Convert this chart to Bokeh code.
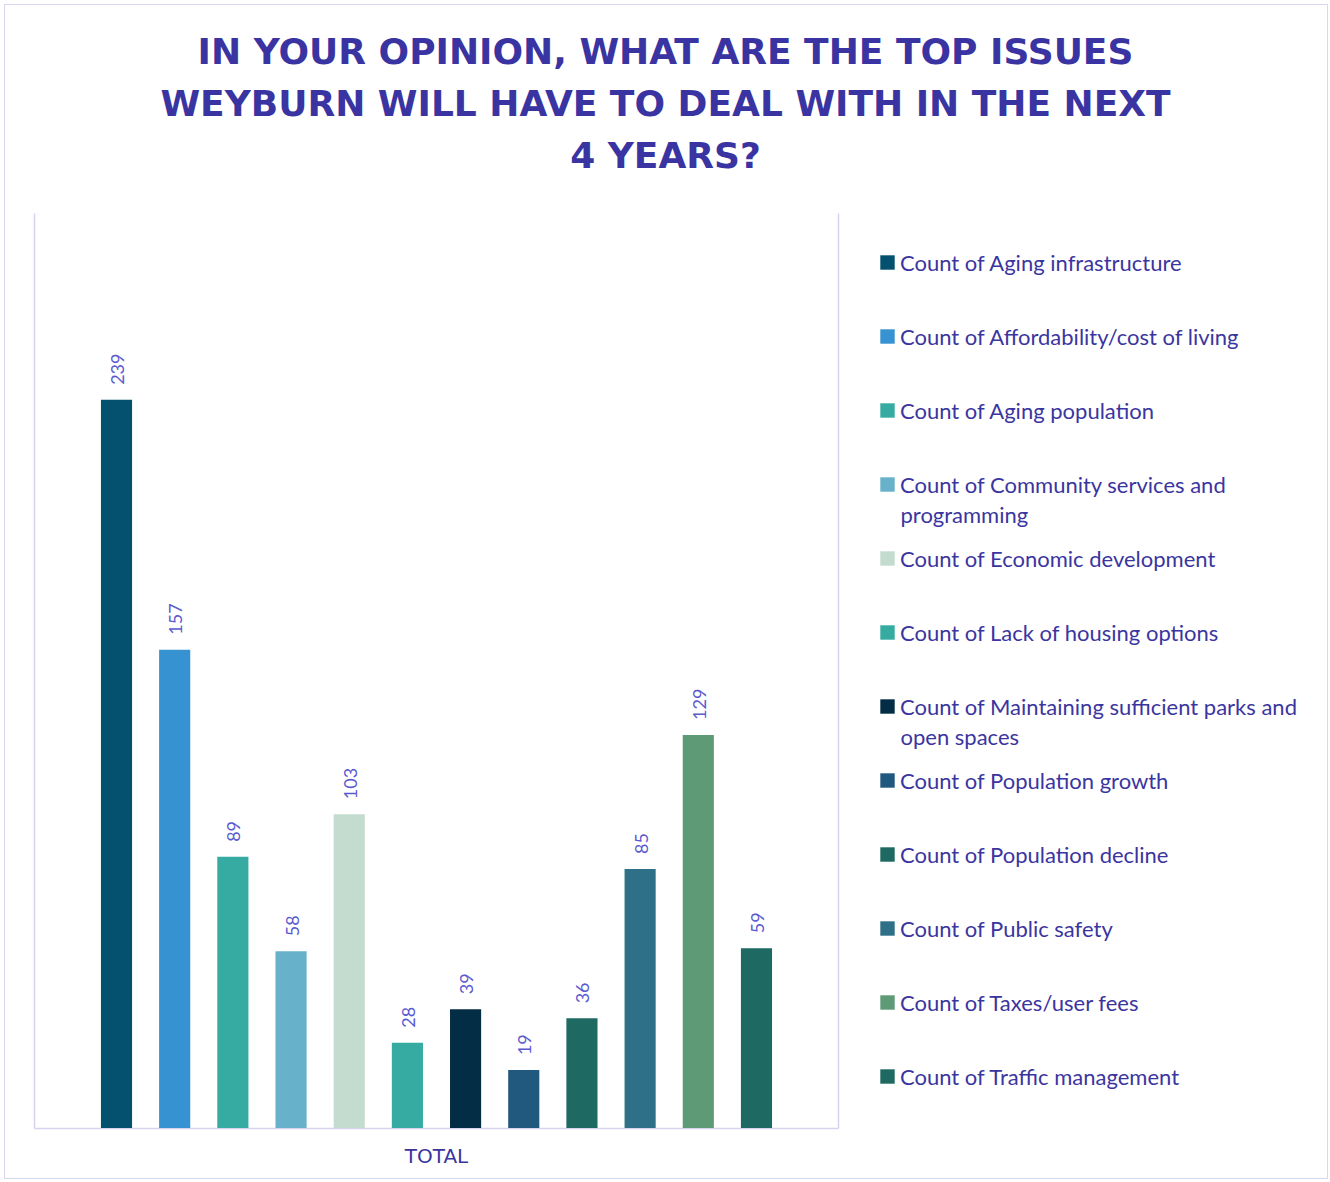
import math
from bokeh.plotting import figure
from bokeh.models import ColumnDataSource, Label, Legend, LegendItem, Range1d
from bokeh.core.properties import value
from bokeh.embed import file_html
from bokeh.resources import INLINE

categories = [
    "Count of Aging infrastructure",
    "Count of Affordability/cost of living",
    "Count of Aging population",
    "Count of Community services and programming",
    "Count of Economic development",
    "Count of Lack of housing options",
    "Count of Maintaining sufficient parks and open spaces",
    "Count of Population growth",
    "Count of Population decline",
    "Count of Public safety",
    "Count of Taxes/user fees",
    "Count of Traffic management",
]
counts = [239, 157, 89, 58, 103, 28, 39, 19, 36, 85, 129, 59]
colors = ["#03506f", "#3692d0", "#35aba2", "#67b2ca", "#c3dccf", "#35aba2",
          "#032d45", "#21587e", "#1e6961", "#2e7087", "#5e9a76", "#1e6961"]
title_lines = ["IN YOUR OPINION, WHAT ARE THE TOP ISSUES",
               "WEYBURN WILL HAVE TO DEAL WITH IN THE NEXT",
               "4 YEARS?"]
axis_title = "TOTAL"

TITLE_C = "#3a34a2"
TEXT_C = "#3b35a0"
LABEL_C = "#5a5ad0"
LINE_C = "#d6d3f0"

# canvas occupies reference pixels 5..1329 x 5..1180
CX0, CY0 = 5, 5
W, H = 1324, 1175
# mapping reference pixels -> data
BAR0, STEP = 116.0, 58.18      # first bar centre, bar pitch (px)
BASE, PPU = 1127.5, 3.0467     # baseline y (px), px per unit

def px2x(xr):
    return (xr - BAR0) / STEP

def px2y(yr):
    return (BASE - yr) / PPU

p = figure(width=W, height=H, output_backend="svg", toolbar_location=None,
           x_range=Range1d(px2x(CX0), px2x(CX0 + W)),
           y_range=Range1d(px2y(CY0 + H), px2y(CY0)),
           min_border=0, x_axis_location=None, y_axis_location=None)
p.styles = {"border": "1px solid #d9d6f2", "margin": "4px 0 0 4px"}
p.outline_line_color = None
p.xgrid.visible = False
p.ygrid.visible = False
p.background_fill_color = "white"
p.border_fill_color = "white"

# plot-area border: left, right, bottom
FL, FR, FT, FB = 34, 838, 213, 1128
p.segment(x0=[px2x(FL), px2x(FR), px2x(FL)], y0=[px2y(FT), px2y(FT), px2y(FB)],
          x1=[px2x(FL), px2x(FR), px2x(FR)], y1=[px2y(FB), px2y(FB), px2y(FB)],
          line_color=LINE_C, line_width=1.5)

xs = list(range(len(counts)))
src = ColumnDataSource(dict(x=xs, top=counts, color=colors, cat=categories,
                            lab=[str(c) for c in counts]))

items = []
for i in xs:
    r = p.vbar(x=[xs[i]], top=[counts[i]], bottom=0, width=0.535,
               fill_color=colors[i], line_color=None)
    lab = categories[i]
    if lab == "Count of Community services and programming":
        lab = "Count of Community services and"
    if lab == "Count of Maintaining sufficient parks and open spaces":
        lab = "Count of Maintaining sufficient parks and"
    items.append(LegendItem(label=lab, renderers=[r]))

p.text(x="x", y="top", text="lab", source=src, angle=math.pi / 2,
       text_align="left", text_baseline="middle", y_offset=-15, x_offset=1,
       text_font=value("Lato"), text_font_size="18px", text_color=LABEL_C)

for line, yr in zip(title_lines, [51, 103, 155]):
    p.add_layout(Label(x=px2x(665), y=px2y(yr), text=line, text_align="center",
                       text_baseline="middle", text_font="DejaVu Sans",
                       text_font_style="bold", text_font_size="36px",
                       text_color=TITLE_C))

p.add_layout(Label(x=px2x(436), y=px2y(1155), text=axis_title, text_align="center",
                   text_baseline="middle", text_font="DejaVu Sans",
                   text_font_size="20px", text_color=TEXT_C))

legend = Legend(items=items, location=(873, 90), orientation="vertical",
                padding=0, margin=0, spacing=46, label_height=28,
                glyph_width=18, glyph_height=18, label_standoff=4,
                label_text_font="Lato", label_text_font_size="22px",
                label_text_color=TEXT_C, border_line_color=None,
                background_fill_alpha=0)
p.add_layout(legend, "center")

for txt, yr in [("programming", 514), ("open spaces", 736)]:
    p.add_layout(Label(x=px2x(900), y=px2y(yr), text=txt, text_align="left",
                       text_baseline="middle", text_font="Lato",
                       text_font_size="22px", text_color=TEXT_C))

open("out.html", "w").write(file_html(p, INLINE))
